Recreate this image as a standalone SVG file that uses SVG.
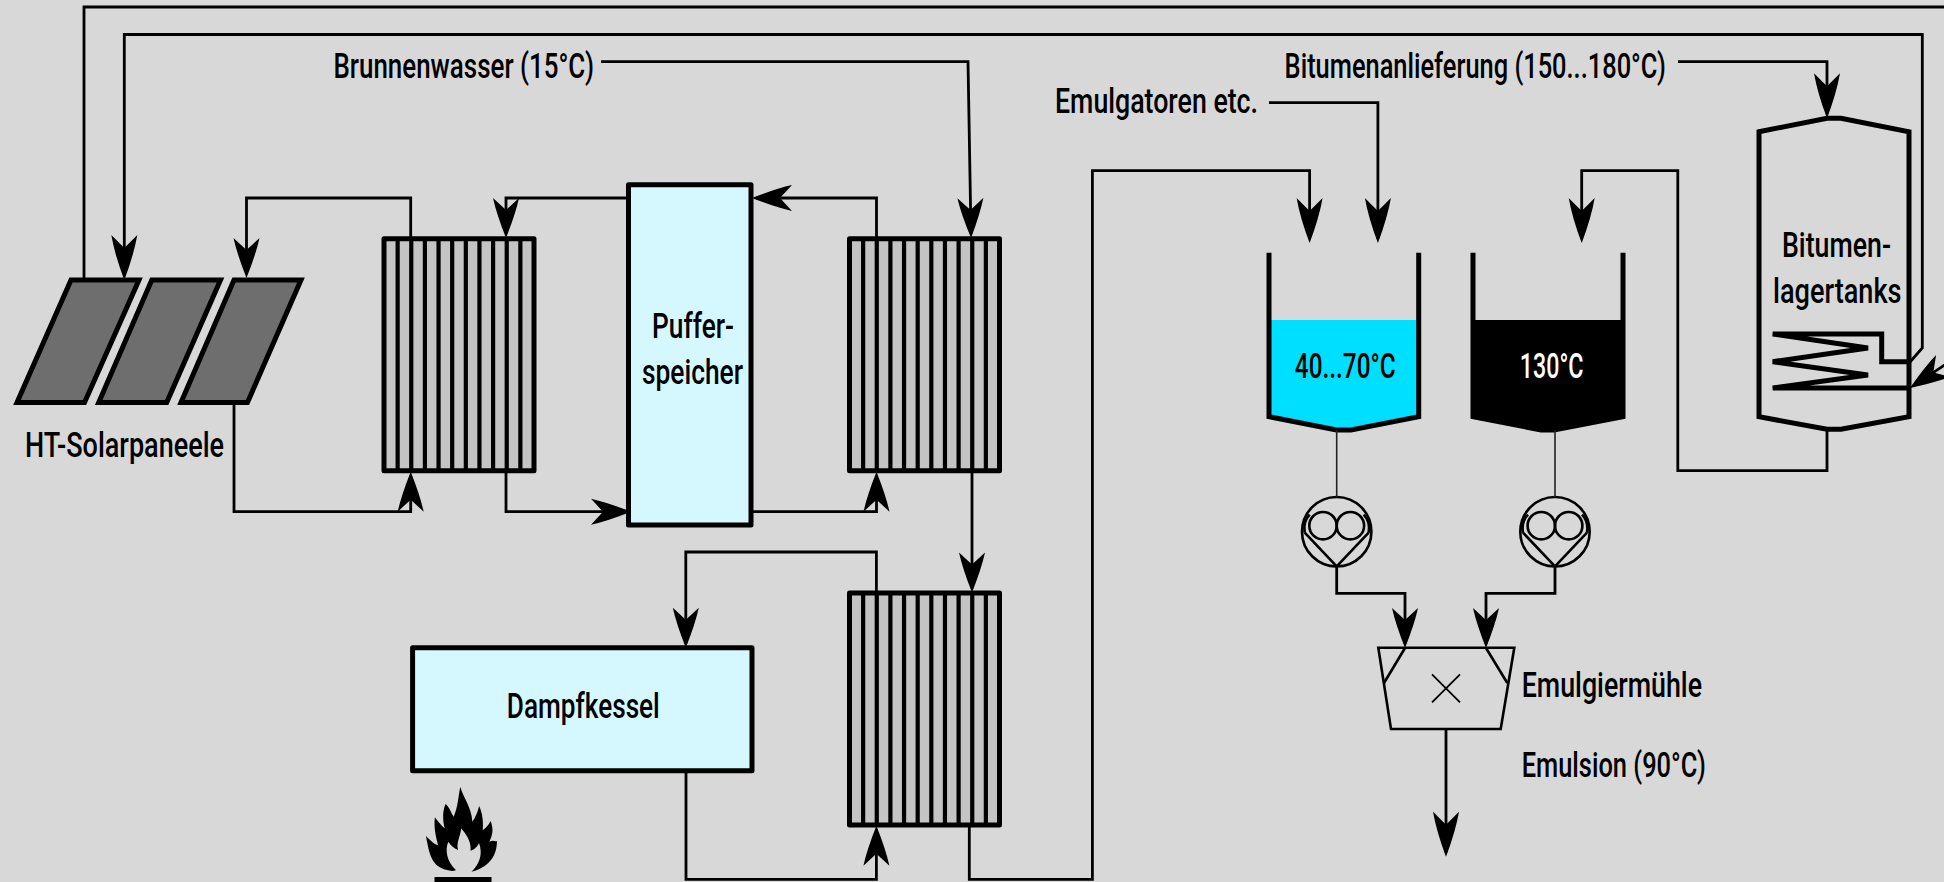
<svg xmlns="http://www.w3.org/2000/svg" xmlns:xlink="http://www.w3.org/1999/xlink" width="1944" height="882" viewBox="0 0 1944 882">
<style>
text{font-family:Roboto,"Liberation Sans",sans-serif;font-size:35px;font-weight:500;fill:#000}
.c{fill:none;stroke:#000;stroke-width:2.8;marker-end:url(#a)}
.cb{marker-end:url(#b)}
.thin{fill:none;stroke:#222;stroke-width:1.6}
.box{fill:#d5f8ff;stroke:#000;stroke-width:5;stroke-linejoin:round}
.panel{fill:#6e6e6e;stroke:#000;stroke-width:5}
.wall{fill:none;stroke:#000;stroke-width:5;stroke-linejoin:miter}
.sym{fill:none;stroke:#000;stroke-width:2.6}
</style>
<defs>
<marker id="a" markerUnits="userSpaceOnUse" viewBox="0 0 50 30" markerWidth="50" markerHeight="30" refX="40" refY="15" orient="auto"><path d="M44,15Q20,5.5 4,2L16,15L4,28Q20,24.5 44,15Z" fill="#000"/></marker>
<marker id="b" markerUnits="userSpaceOnUse" viewBox="0 0 50 30" markerWidth="50" markerHeight="30" refX="41" refY="15" orient="auto"><path d="M45,15Q20,5.5 0,2L13,15L0,28Q20,24.5 45,15Z" fill="#000"/></marker>
<g id="hx">
<rect x="0" y="0" width="150" height="232" fill="#c4c4c4" stroke="#000" stroke-width="5" stroke-linejoin="round"/>
<path d="M13.64,0V232M27.27,0V232M40.9,0V232M54.55,0V232M68.18,0V232M81.82,0V232M95.45,0V232M109.1,0V232M122.73,0V232M136.36,0V232" stroke="#000" stroke-width="4.2"/>
</g>
<g id="pump">
<circle cx="0" cy="0" r="34.7" class="sym"/>
<circle cx="-13.7" cy="-6" r="13.7" class="sym"/>
<circle cx="13.7" cy="-6" r="13.7" class="sym"/>
<path d="M-32,1L0,34.7L32,1" class="sym"/>
<path d="M-32,1A14,18 0 0 1-27,-17M32,1A14,18 0 0 0 27,-17" class="sym"/>
</g>
</defs>
<rect width="1944" height="882" fill="#d8d8d8"/>
<g id="solar">
<polygon class="panel" points="71,280 139,280 84.5,402.5 17,402.5"/>
<polygon class="panel" points="151.8,280 220.5,280 166.7,402.5 98.7,402.5"/>
<polygon class="panel" points="234,280 301,280 247.5,402.5 181,402.5"/>
<text x="25" y="456.7" textLength="199" lengthAdjust="spacingAndGlyphs">HT-Solarpaneele</text>
</g>
<g id="hx1" transform="translate(384,238.7)"><use xlink:href="#hx" href="#hx"/></g>
<g id="hx2" transform="translate(849.5,238.7)"><use xlink:href="#hx" href="#hx"/></g>
<g id="hx3" transform="translate(849.5,593)"><use xlink:href="#hx" href="#hx"/></g>
<g id="puffer">
<rect class="box" x="628.5" y="184.7" width="122.5" height="340.3"/>
<text x="652" y="337.7" textLength="82" lengthAdjust="spacingAndGlyphs">Puffer-</text>
<text x="642" y="384" textLength="101" lengthAdjust="spacingAndGlyphs">speicher</text>
</g>
<g id="dampfkessel">
<rect class="box" x="412.6" y="647.7" width="339.4" height="123"/>
<text x="506.8" y="718.3" textLength="153" lengthAdjust="spacingAndGlyphs">Dampfkessel</text>
</g>
<g id="flamme">
<path transform="translate(380,520) scale(0.4464,0.3333)" fill="#000" d="M150,1050C115,1040 110,1000 103,948C115,965 125,975 130,975C125,950 120,920 123,892C130,905 140,920 145,925C140,900 140,870 147,852C155,860 160,880 165,890C175,860 175,830 180,800C185,830 205,860 207,905C215,890 220,870 222,858C230,880 232,910 230,930C238,925 245,910 248,903C255,930 252,945 245,965C252,960 258,965 262,963C262,1000 250,1040 205,1055C225,1030 230,1000 222,970C215,985 210,990 203,992C205,960 190,940 182,925C180,950 170,970 175,990C165,985 158,975 153,965C145,990 150,1025 170,1050C165,1055 155,1052 150,1050Z"/>
<rect x="434.5" y="877" width="57" height="5" fill="#000"/>
</g>
<g id="tank-emulgator">
<polygon points="1269,320 1418.7,320 1418.7,416.7 1351,430 1336.5,430 1269,416.7" fill="#00dfff"/>
<path class="wall" d="M1269,252.7V416.7L1336.5,430H1351L1418.7,416.7V252.7"/>
<text x="1294.8" y="378" textLength="101" lengthAdjust="spacingAndGlyphs">40...70°C</text>
</g>
<g id="tank-bitumen">
<polygon points="1473,320 1623,320 1623,416.7 1554,430 1541,430 1473,416.7" fill="#000"/>
<path class="wall" d="M1473,252.7V416.7L1541,430H1554L1623,416.7V252.7"/>
<text x="1519.8" y="378" textLength="63.7" lengthAdjust="spacingAndGlyphs" style="fill:#fff">130°C</text>
</g>
<g id="lagertank">
<path class="wall" d="M1759,131.7L1827,118.3H1841L1909,131.7V416.7L1841,429.3H1827L1759,416.7Z"/>
<path class="wall" d="M1910,361.7H1881.7V334H1772.7L1868,348L1772.7,361.7L1868,375L1772.7,388H1910"/>
<text x="1782" y="256.7" textLength="109" lengthAdjust="spacingAndGlyphs">Bitumen-</text>
<text x="1773" y="303" textLength="128.5" lengthAdjust="spacingAndGlyphs">lagertanks</text>
</g>
<g id="pumpe1" transform="translate(1336.7,531.7)"><use xlink:href="#pump" href="#pump"/></g>
<g id="pumpe2" transform="translate(1555,531.7)"><use xlink:href="#pump" href="#pump"/></g>
<g id="muehle">
<polygon class="sym" points="1378.3,647.7 1514.3,647.7 1500.7,729 1391,729"/>
<path class="sym" d="M1405,648L1384,683M1486,648L1507.3,683"/>
<path d="M1432,674.3L1460,702.3M1460,674.3L1432,702.3" fill="none" stroke="#000" stroke-width="1.8"/>
<text x="1521.7" y="696.7" textLength="180.3" lengthAdjust="spacingAndGlyphs">Emulgiermühle</text>
</g>
<g id="labels">
<text x="333.5" y="78" textLength="260.5" lengthAdjust="spacingAndGlyphs">Brunnenwasser (15°C)</text>
<text x="1055" y="112.5" textLength="203" lengthAdjust="spacingAndGlyphs">Emulgatoren etc.</text>
<text x="1284.6" y="78" textLength="381.4" lengthAdjust="spacingAndGlyphs">Bitumenanlieferung (150...180°C)</text>
<text x="1521.7" y="776.7" textLength="184.3" lengthAdjust="spacingAndGlyphs">Emulsion (90°C)</text>
</g>
<g id="connectors">
<path class="c" d="M234,402.5V511.7H410.7V475.7"/>
<path class="c" d="M410.7,238.7V198H246.5V274"/>
<path class="c" d="M506,471.7V511.7H627"/>
<path class="c" d="M628.5,198H506V234"/>
<path class="c" d="M876.5,238.7V198H756"/>
<path class="c" d="M751,511.7H876.5V475.7"/>
<path class="c" d="M601,61.7H968L971,234"/>
<path class="c" d="M972,471.7V588.5"/>
<path class="c" d="M876.4,592.5V552H685.8V643.7"/>
<path class="c" d="M686,770.7V879.3H876.4V829.7"/>
<path class="c cb" d="M969.3,826V879.3H1092.4V170.7H1309.6V239"/>
<path class="c cb" d="M1269,102.7H1377.9V239"/>
<path class="c cb" d="M1678,61.7H1827V114.3"/>
<path class="c cb" d="M1827,430V470.7H1677.8V170.7H1581.7V239"/>
<path class="c cb" d="M1910,362L1922.3,348V34.5H124.3V276"/>
<path class="c" d="M84,280V7H1960V354.8L1913.3,385.8"/>
<path class="thin" d="M1336.7,430V497M1555,430V497"/>
<path class="c" d="M1336.7,566.4V593.3H1405V644"/>
<path class="c" d="M1555,566.4V593.3H1486V644"/>
<path class="c cb" d="M1446,729V852.7"/>
</g>
</svg>
